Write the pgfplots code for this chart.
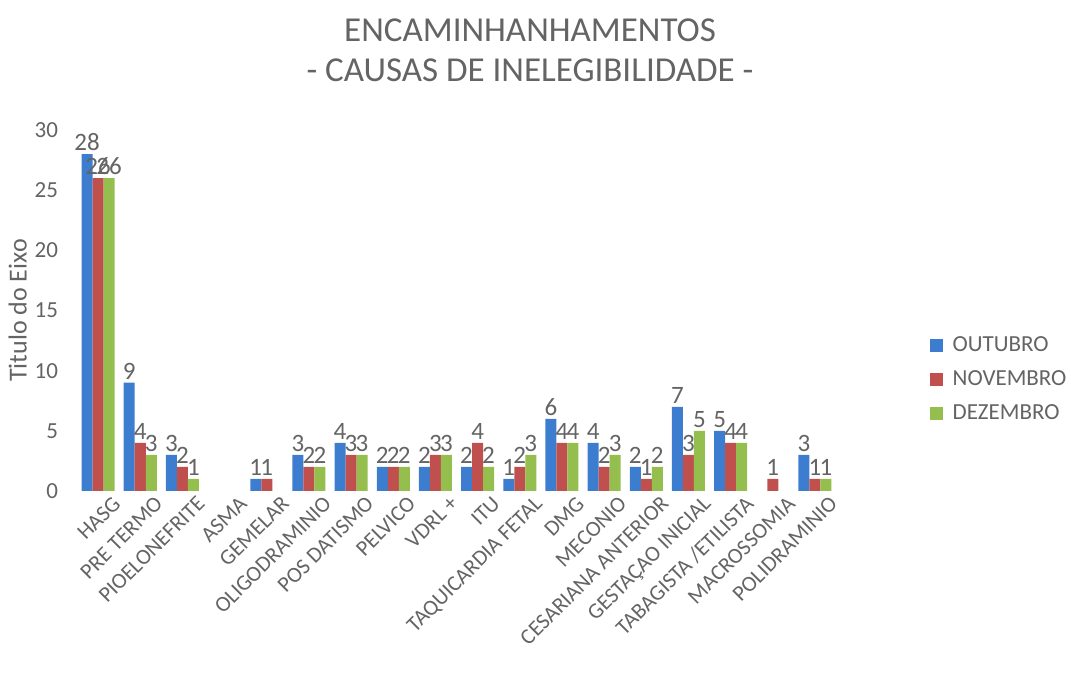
\documentclass[border=0pt]{standalone}
\usepackage{pgfplots}
\pgfplotsset{compat=1.18}
\usepackage{fontspec}
\setmainfont{Carlito}
\definecolor{txt}{HTML}{646464}
\definecolor{cA}{HTML}{3D7DD0}
\definecolor{cB}{HTML}{C0504D}
\definecolor{cC}{HTML}{94BE4E}
\begin{document}
\begin{tikzpicture}
\useasboundingbox (-38.5pt,-91pt) rectangle (497pt,245.5pt);
\begin{axis}[name=ax, at={(0pt,0pt)}, anchor=south west,
  scale only axis, width=379.5pt, height=180.5pt,
  ybar=0pt, bar width=5.5pt,
  xmin=-0.5, xmax=17.5, ymin=0, ymax=30,
  ytick={0,5,...,30},
  xtick={0,...,17},
  xticklabels={HASG,PRE TERMO,PIOELONEFRITE,ASMA,GEMELAR,OLIGODRAMINIO,POS DATISMO,PELVICO,VDRL +,ITU,TAQUICARDIA FETAL,DMG,MECONIO,CESARIANA ANTERIOR,GESTAÇAO INICIAL,TABAGISTA /ETILISTA,MACROSSOMIA,POLIDRAMINIO},
  x tick label style={rotate=45, anchor=north east, font=\fontsize{11}{12}\selectfont, text=txt, inner sep=1pt, xshift=7.5pt, yshift=-2pt},
  y tick label style={font=\fontsize{11.5}{12}\selectfont, text=txt, xshift=-6pt},
  /pgf/number format/assume math mode=true,
  axis line style={draw=none}, tick style={draw=none},
  ylabel={Titulo do Eixo}, ylabel style={font=\fontsize{13}{14}\selectfont, text=txt, yshift=-3pt},
  nodes near coords,
  nodes near coords style={font=\fontsize{12.5}{13}\selectfont, text=txt, inner sep=1.5pt},
  legend style={draw=none, at={(rel axis cs:1.115,0.45)}, anchor=north west, font=\fontsize{11.5}{12}\selectfont, text=txt, row sep=4pt, nodes={inner xsep=5pt}},
  legend cell align=left,
  legend image code/.code={\fill[#1] (0pt,-3pt) rectangle (6.5pt,3.5pt);},
]
\addplot[fill=cA, draw=none] coordinates {(0,28) (1,9) (2,3) (4,1) (5,3) (6,4) (7,2) (8,2) (9,2) (10,1) (11,6) (12,4) (13,2) (14,7) (15,5) (17,3)};
\addplot[fill=cB, draw=none] coordinates {(0,26) (1,4) (2,2) (4,1) (5,2) (6,3) (7,2) (8,3) (9,4) (10,2) (11,4) (12,2) (13,1) (14,3) (15,4) (16,1) (17,1)};
\addplot[fill=cC, draw=none] coordinates {(0,26) (1,3) (2,1) (5,2) (6,3) (7,2) (8,3) (9,2) (10,3) (11,4) (12,3) (13,2) (14,5) (15,4) (17,1)};
\legend{OUTUBRO,NOVEMBRO,DEZEMBRO}
\end{axis}
\node[text=txt, font=\fontsize{17.5}{18}\selectfont] at ([shift={(36.75pt,50pt)}]ax.north) {ENCAMINHANHAMENTOS};
\node[text=txt, font=\fontsize{17.5}{18}\selectfont] at ([shift={(36.75pt,30pt)}]ax.north) {- CAUSAS DE INELEGIBILIDADE -};
\end{tikzpicture}
\end{document}
